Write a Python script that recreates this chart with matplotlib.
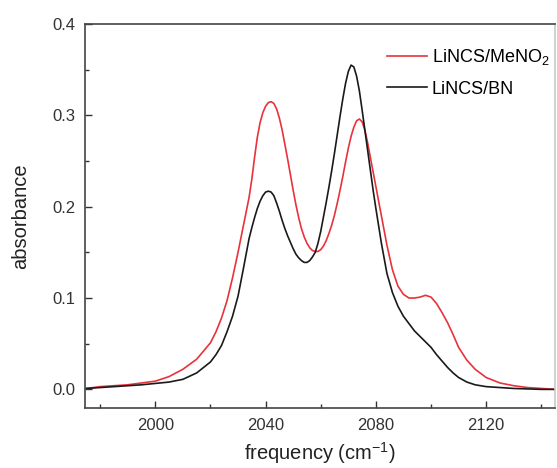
import matplotlib
matplotlib.use("Agg")
import matplotlib.pyplot as plt
from matplotlib.ticker import MultipleLocator

plt.rcParams['font.family'] = ['Liberation Sans', 'DejaVu Sans']
plt.rcParams['mathtext.fontset'] = 'custom'
plt.rcParams['mathtext.rm'] = 'Liberation Sans'

# values (frequency in cm-1)
freq = [1975, 1980, 1985, 1990, 1995, 2000, 2005, 2010, 2015, 2020,
        2022, 2024, 2026, 2028, 2030, 2032, 2034,
        2035, 2036, 2037, 2038, 2039, 2040, 2041, 2042, 2043, 2044,
        2045, 2046, 2047, 2048, 2049, 2050, 2051, 2052, 2053, 2054,
        2055, 2056, 2057, 2058, 2059, 2060, 2061, 2062, 2063, 2064,
        2065, 2066, 2067, 2068, 2069, 2070, 2071, 2072, 2073, 2074,
        2075, 2076, 2077, 2078, 2079, 2080,
        2082, 2084, 2086, 2088, 2090, 2092, 2094, 2096, 2098, 2100,
        2102, 2104, 2106, 2108, 2110,
        2113, 2116, 2120, 2125, 2130, 2135, 2140, 2145]

abs_meno2 = [0.001, 0.003, 0.004, 0.005, 0.007, 0.009, 0.014, 0.022, 0.033, 0.051,
             0.063, 0.078, 0.097, 0.122, 0.150, 0.180, 0.210,
             0.230, 0.254, 0.276, 0.292, 0.303, 0.310, 0.314, 0.315, 0.313, 0.307,
             0.297, 0.284, 0.268, 0.252, 0.235, 0.218, 0.202, 0.188, 0.176, 0.167,
             0.160, 0.155, 0.152, 0.151, 0.151, 0.153, 0.157, 0.163, 0.171, 0.180,
             0.191, 0.204, 0.218, 0.233, 0.249, 0.264, 0.277, 0.287, 0.294, 0.296,
             0.293, 0.284, 0.270, 0.254, 0.238, 0.222,
             0.190, 0.158, 0.131, 0.113, 0.104, 0.100, 0.100, 0.101, 0.103, 0.101,
             0.094, 0.084, 0.073, 0.060, 0.046,
             0.032, 0.022, 0.013, 0.007, 0.004, 0.002, 0.001, 0.000]

abs_bn = [0.001, 0.002, 0.003, 0.004, 0.005, 0.0065, 0.008, 0.011, 0.018, 0.030,
          0.038, 0.048, 0.063, 0.080, 0.102, 0.133, 0.165,
          0.177, 0.188, 0.198, 0.206, 0.212, 0.216, 0.217, 0.216, 0.212, 0.204,
          0.195, 0.185, 0.176, 0.168, 0.161, 0.154, 0.148, 0.144, 0.141, 0.139,
          0.139, 0.141, 0.145, 0.150, 0.160, 0.173, 0.189, 0.205, 0.222, 0.240,
          0.259, 0.279, 0.299, 0.318, 0.335, 0.348, 0.355, 0.353, 0.343, 0.327,
          0.306, 0.284, 0.262, 0.240, 0.218, 0.198,
          0.160, 0.127, 0.106, 0.091, 0.080, 0.072, 0.064, 0.058, 0.052, 0.046,
          0.038, 0.031, 0.024, 0.018, 0.013,
          0.008, 0.005, 0.003, 0.002, 0.001, 0.0005, 0.000, 0.000]

fig = plt.figure(figsize=(5.57, 4.68), dpi=100)
ax = fig.add_axes([0.1526, 0.128, 0.844, 0.8207])

ax.plot(freq, abs_meno2, color='#e8323c', lw=1.2, label='LiNCS/MeNO$_2$')
ax.plot(freq, abs_bn, color='#1a1a1a', lw=1.2, label='LiNCS/BN')

ax.set_xlim(1974.5, 2145)
ax.set_ylim(-0.0205, 0.4)
ax.xaxis.set_major_locator(MultipleLocator(40))
ax.xaxis.set_minor_locator(MultipleLocator(20))
ax.yaxis.set_major_locator(MultipleLocator(0.1))
ax.yaxis.set_minor_locator(MultipleLocator(0.05))
ax.tick_params(which='both', direction='in', top=False, right=False,
               labelsize=12, colors='#333333')
ax.tick_params(which='major', length=5, width=1, pad=7)
ax.tick_params(which='minor', length=3, width=1)
for s in ax.spines.values():
    s.set_linewidth(1.2)
    s.set_color('#444444')
ax.spines['right'].set_color('#c8c8c8')

ax.set_xlabel('frequency (cm$^{-1}$)', fontsize=14.5, color='#222222', labelpad=5)
ax.set_ylabel('absorbance', fontsize=14.5, color='#222222', labelpad=16)

ax.legend(loc='upper left', frameon=False, fontsize=13, handlelength=2.2,
          handletextpad=0.3, labelspacing=0.75, borderpad=0, borderaxespad=0,
          bbox_to_anchor=(0.642, 0.94))

fig.savefig('out.png', dpi=100)
